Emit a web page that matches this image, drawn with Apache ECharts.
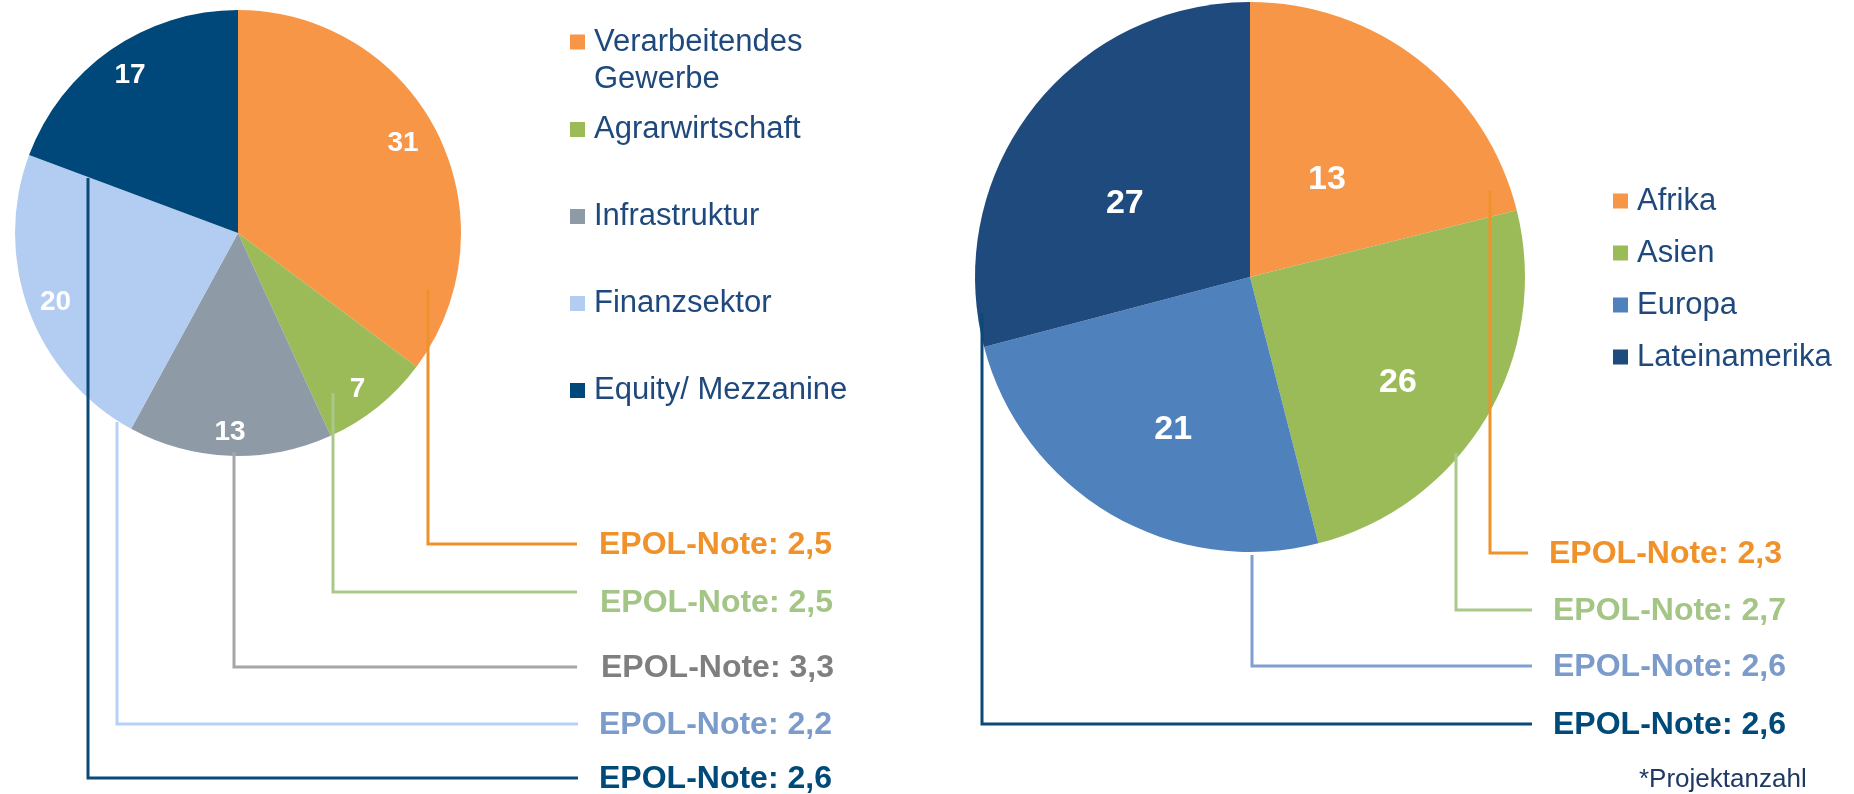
<!DOCTYPE html>
<html>
<head>
<meta charset="utf-8">
<script src="https://cdn.jsdelivr.net/npm/echarts@6/dist/echarts.min.js"></script>
<style>
  html, body { margin: 0; padding: 0; background: #fff; }
  #chart { width: 1854px; height: 794px; }
</style>
</head>
<body>
<div id="chart"></div>
<script>
// left pie: sectors
const sectorNames = ['Verarbeitendes Gewerbe', 'Agrarwirtschaft', 'Infrastruktur', 'Finanzsektor', 'Equity/ Mezzanine'];
const sectorCounts = [31, 7, 13, 20, 17];
const sectorRatings = ['2,5', '2,5', '3,3', '2,2', '2,6'];

const regionNames = ['Afrika', 'Asien', 'Europa', 'Lateinamerika'];
const regionShares = [21.1, 24.9, 24.9, 29.1];
const regionCounts = [13, 26, 21, 27];
const regionRatings = ['2,3', '2,7', '2,6', '2,6'];

const FONT = '"Liberation Sans", Arial, sans-serif';

const sectorColors = ['#F79646', '#9BBB59', '#8E9BA7', '#B3CCF1', '#00477A'];
const regionColors = ['#F79646', '#9BBB59', '#4F81BD', '#1F4A7D'];

// label placement: [angle clockwise from 12 o'clock, distance from centre]
const leftPie = {
  center: [238, 233], r: 223,
  labelPolar: [[61.4, 188], [142.6, 197], [182.3, 199], [249.3, 195], [325.6, 191]]
};
const rightPie = {
  center: [1250, 277], r: 275,
  labelPolar: [[38.4, 124], [125.6, 182], [206.7, 171], [300.3, 145]]
};

// annotation connectors: [lineColor, textColor, points, textX, textY]
const sectorNotes = [
  ['#F0922B', '#F0922B', [[428, 290], [428, 544], [577, 544]], 599, 545],
  ['#A9C98A', '#A3C585', [[333, 393], [333, 592], [577, 592]], 600, 603],
  ['#A6A6A6', '#7F7F7F', [[234, 452], [234, 667], [577, 667]], 601, 668],
  ['#B7D0F5', '#7B9CCB', [[117, 422], [117, 724], [578, 724]], 599, 725],
  ['#0B4A78', '#004A7A', [[88, 178], [88, 778], [578, 778]], 599, 779]
];
const regionNotes = [
  ['#F0922B', '#F0922B', [[1490, 191], [1490, 553], [1528, 553]], 1549, 554],
  ['#A9C98A', '#A3C585', [[1456, 453], [1456, 610], [1532, 610]], 1553, 611],
  ['#7F9FD0', '#7B9CCB', [[1252, 555], [1252, 666], [1532, 666]], 1553, 667],
  ['#0B4A78', '#004A7A', [[982, 313], [982, 724], [1532, 724]], 1553, 725]
];

function placeLabel(pie) {
  return function (params) {
    const lr = params.labelRect;
    const p = pie.labelPolar[params.dataIndex];
    const a = p[0] * Math.PI / 180;
    const tx = pie.center[0] + p[1] * Math.sin(a);
    const ty = pie.center[1] - p[1] * Math.cos(a);
    return {
      dx: tx - (lr.x + lr.width / 2),
      dy: ty - (lr.y + lr.height / 2)
    };
  };
}

const graphics = [];
function addNotes(notes, ratings) {
  notes.forEach(function (n, i) {
    graphics.push({
      type: 'polyline',
      z: 100,
      shape: { points: n[2] },
      style: { stroke: n[0], lineWidth: 3, fill: null },
      silent: true
    });
    graphics.push({
      type: 'text',
      z: 100,
      x: n[3],
      y: n[4],
      style: {
        text: 'EPOL-Note: ' + ratings[i],
        fill: n[1],
        fontFamily: FONT,
        fontSize: 32,
        fontWeight: 'bold',
        verticalAlign: 'middle'
      },
      silent: true
    });
  });
}
addNotes(sectorNotes, sectorRatings);
addNotes(regionNotes, regionRatings);

// square icon with an invisible point to the right, so the text starts 9px after the square
const squareIcon = 'path://M0,0H15V15H0Z M19,14.99L19,15Z';
// same square, but with a taller box so it sits on the first of two text lines
const tallSquareIcon = 'path://M0,0H15V15H0Z M19,51.99L19,52Z';

const legendBase = {
  orient: 'vertical',
  icon: squareIcon,
  itemWidth: 19,
  itemHeight: 15,
  padding: 0,
  selectedMode: false,
  textStyle: { color: '#1F497D', fontSize: 31, fontFamily: FONT, lineHeight: 34 }
};

const chart = echarts.init(document.getElementById('chart'));
chart.setOption({
  animation: false,
  textStyle: { fontFamily: FONT },
  title: {
    text: '*Projektanzahl',
    left: 1639,
    top: 767,
    padding: 0,
    textStyle: { color: '#1F3864', fontSize: 26, fontWeight: 'normal', fontFamily: FONT }
  },
  legend: [
    Object.assign({}, legendBase, {
      left: 570, top: 23.5,
      icon: tallSquareIcon,
      itemHeight: 52,
      data: [sectorNames[0]],
      formatter: function () { return 'Verarbeitendes\nGewerbe'; },
      textStyle: Object.assign({}, legendBase.textStyle, { lineHeight: 37 })
    }),
    Object.assign({}, legendBase, { left: 570, top: 112.5, itemGap: 53, data: sectorNames.slice(1) }),
    Object.assign({}, legendBase, { left: 1613, top: 184, itemGap: 18, data: regionNames })
  ],
  series: [
    {
      type: 'pie',
      center: leftPie.center,
      radius: leftPie.r,
      startAngle: 90,
      clockwise: true,
      data: sectorNames.map(function (n, i) {
        return { name: n, value: sectorCounts[i], itemStyle: { color: sectorColors[i] } };
      }),
      label: {
        show: true,
        position: 'inside',
        color: '#fff',
        fontSize: 28,
        fontWeight: 'bold',
        fontFamily: FONT,
        formatter: function (p) { return String(sectorCounts[p.dataIndex]); }
      },
      labelLine: { show: false },
      labelLayout: placeLabel(leftPie),
      emphasis: { disabled: true }
    },
    {
      type: 'pie',
      center: rightPie.center,
      radius: rightPie.r,
      startAngle: 90,
      clockwise: true,
      data: regionNames.map(function (n, i) {
        return { name: n, value: regionShares[i], itemStyle: { color: regionColors[i] } };
      }),
      label: {
        show: true,
        position: 'inside',
        color: '#fff',
        fontSize: 34,
        fontWeight: 'bold',
        fontFamily: FONT,
        formatter: function (p) { return String(regionCounts[p.dataIndex]); }
      },
      labelLine: { show: false },
      labelLayout: placeLabel(rightPie),
      emphasis: { disabled: true }
    }
  ],
  graphic: graphics
});
</script>
</body>
</html>
